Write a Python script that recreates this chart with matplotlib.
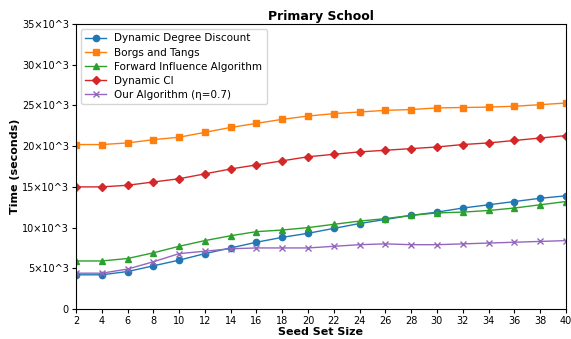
import numpy as np
import matplotlib.pyplot as plt
from matplotlib.ticker import FuncFormatter

seeds = list(range(2, 41, 2))

# values in thousands of seconds
ddd = [4.2, 4.2, 4.6, 5.3, 6.0, 6.8, 7.5, 8.2, 8.8, 9.3, 9.9, 10.5, 11.0, 11.5, 11.9, 12.4, 12.8, 13.2, 13.6, 13.9]
borgs = [20.2, 20.2, 20.4, 20.8, 21.1, 21.7, 22.3, 22.8, 23.3, 23.7, 24.0, 24.2, 24.4, 24.5, 24.7, 24.75, 24.8, 24.9, 25.1, 25.3]
fia = [5.9, 5.9, 6.2, 6.9, 7.7, 8.4, 9.0, 9.5, 9.7, 10.0, 10.4, 10.8, 11.1, 11.5, 11.8, 11.9, 12.1, 12.4, 12.8, 13.2]
dci = [15.0, 15.0, 15.2, 15.6, 16.0, 16.6, 17.2, 17.7, 18.2, 18.7, 19.0, 19.3, 19.5, 19.7, 19.9, 20.2, 20.4, 20.7, 21.0, 21.3]
ours = [4.4, 4.4, 4.9, 5.8, 6.8, 7.1, 7.4, 7.5, 7.5, 7.5, 7.7, 7.9, 8.0, 7.9, 7.9, 8.0, 8.1, 8.2, 8.3, 8.4]

fig = plt.figure(figsize=(5.71, 3.39), dpi=100)
ax = fig.add_axes([0.133, 0.0885, 0.858, 0.8405])

ax.plot(seeds, np.array(ddd) * 1000, '-o', color='tab:blue', ms=4.5, lw=1, label='Dynamic Degree Discount')
ax.plot(seeds, np.array(borgs) * 1000, '-s', color='tab:orange', ms=4.5, lw=1, label='Borgs and Tangs')
ax.plot(seeds, np.array(fia) * 1000, '-^', color='tab:green', ms=4.5, lw=1, label='Forward Influence Algorithm')
ax.plot(seeds, np.array(dci) * 1000, '-D', color='tab:red', ms=4.5, lw=1, label='Dynamic CI')
ax.plot(seeds, np.array(ours) * 1000, '-x', color='tab:purple', ms=4.5, lw=1, label='Our Algorithm (η=0.7)')

ax.set_xlim(2, 40)
ax.set_ylim(0, 35000)
ax.set_xticks(seeds)
ax.set_yticks(np.arange(0, 35001, 5000))
ax.yaxis.set_major_formatter(FuncFormatter(lambda v, p: '0' if v == 0 else f'{int(v/1000)}×10^3'))
ax.tick_params(labelsize=7, length=3, pad=2)

ax.set_xlabel('Seed Set Size', fontsize=8, fontweight='bold', labelpad=1)
ax.set_ylabel('Time (seconds)', fontsize=8, fontweight='bold', labelpad=1)
ax.set_title('Primary School', fontsize=9, fontweight='bold', pad=3)
ax.legend(loc='upper left', fontsize=7.5, labelspacing=0.4)

fig.savefig('out.png', dpi=100)
